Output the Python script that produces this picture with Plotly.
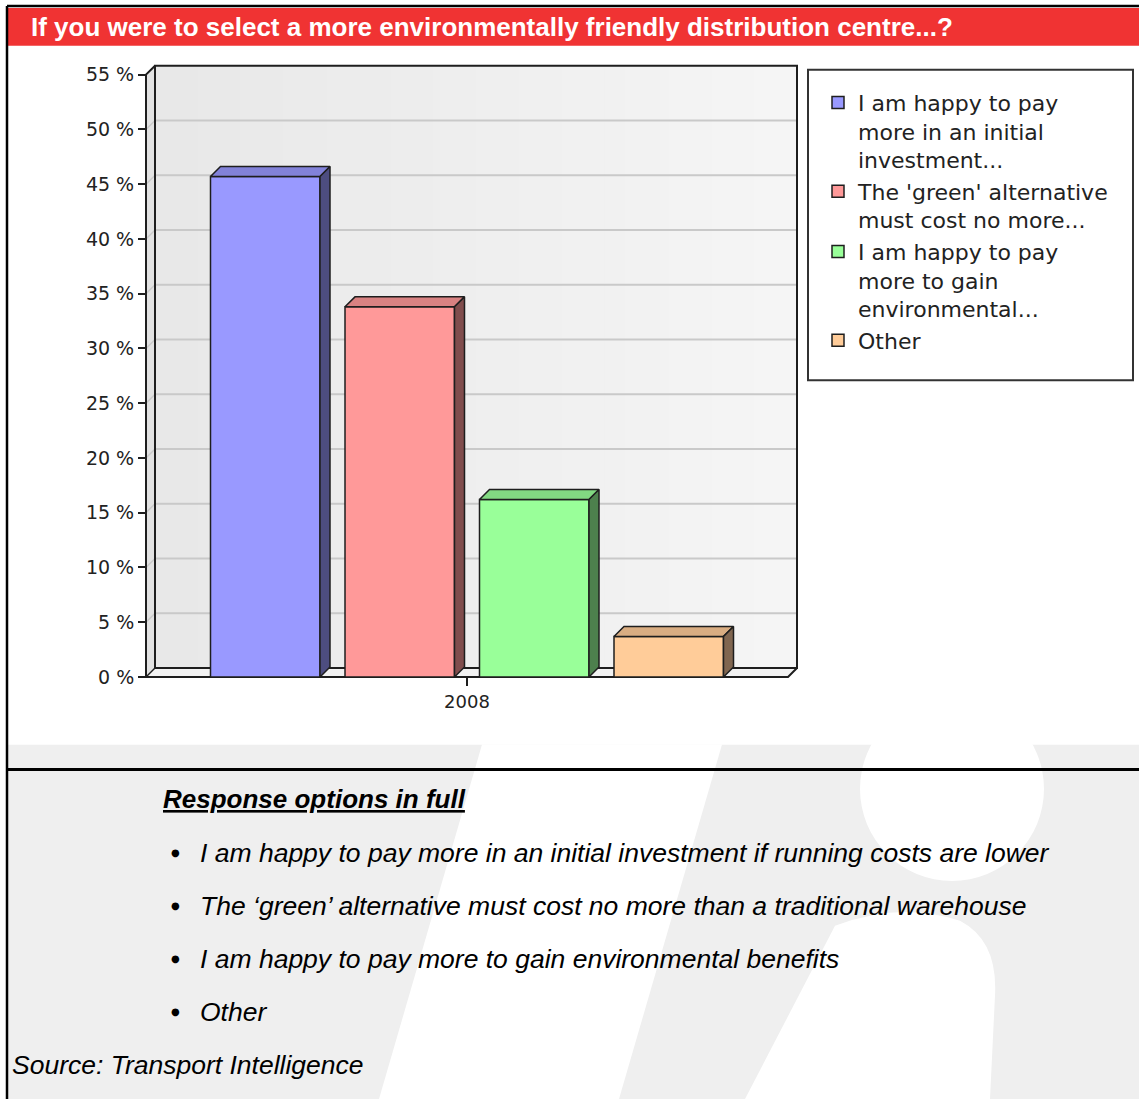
import plotly.graph_objects as go

# ---------------- data ----------------
years = ["2008"]
series_labels = [
    "I am happy to pay<br>more in an initial<br>investment...",
    "The 'green' alternative<br>must cost no more...",
    "I am happy to pay<br>more to gain<br>environmental...",
    "Other",
]
series_values = [45.7, 33.8, 16.2, 3.7]
y_tick_values = [0, 5, 10, 15, 20, 25, 30, 35, 40, 45, 50, 55]
y_tick_labels = [f"{v} %" for v in y_tick_values]

title_text = "If you were to select a more environmentally friendly distribution centre...?"
options_heading = "Response options in full"
options_full = [
    "I am happy to pay more in an initial investment if running costs are lower",
    "The \u2018green\u2019 alternative must cost no more than a traditional warehouse",
    "I am happy to pay more to gain environmental benefits",
    "Other",
]
source_text = "Source: Transport Intelligence"

# ---------------- styling ----------------
front_colors = ["#9999FF", "#FF9999", "#99FF99", "#FFCC99"]
top_colors = ["#8282D9", "#D98282", "#82D982", "#D9AD82"]
side_colors = ["#4D4D80", "#804D4D", "#4D804D", "#806650"]
OUTLINE = "#1e1e1e"
GRID = "#C9C9C9"

W, H = 1139, 1104

# pixel geometry of the plotting box
PX_X0 = 146          # front-left corner (x = -0.5)
PX_PER_UNIT = 642    # width of the front floor for one category
PX_Y0 = 680          # 0 % line
PX_PER_PCT = 11.0
WALL_DEPTH = 9       # 3-D depth of walls in px
BAR_DEPTH = 10       # 3-D depth of bars in px

AREA_L, AREA_R, AREA_T, AREA_B = 140, 806, 58, 686


def ux(px):
    return px / PX_PER_UNIT


def uy(px):
    return px / PX_PER_PCT


x_range = [-0.5 + ux(AREA_L - PX_X0), -0.5 + ux(AREA_R - PX_X0)]
y_range = [uy(PX_Y0 - AREA_B), uy(PX_Y0 - AREA_T)]

xL, xR = -0.5, 0.5
wdx, wdy = ux(WALL_DEPTH), uy(WALL_DEPTH)
bdx, bdy = ux(BAR_DEPTH), uy(BAR_DEPTH)
y_top = y_tick_values[-1]

fig = go.Figure()

# ---------------- bars (front faces + 3-D top/side) ----------------
slot = ux(134.5)
bar_w = ux(109.5)
n = len(series_values)
for i, (lab, val) in enumerate(zip(series_labels, series_values)):
    cx = (i - (n - 1) / 2) * slot
    x0, x1 = cx - bar_w / 2, cx + bar_w / 2
    fig.add_trace(go.Bar(
        x=[cx], y=[val], width=[bar_w], name=lab,
        marker=dict(color=front_colors[i], line=dict(color=OUTLINE, width=1.5)),
        hovertemplate="%{y:.1f} %<extra></extra>",
    ))
    fig.add_trace(go.Scatter(
        x=[x0, x1, x1 + bdx, x0 + bdx, x0],
        y=[val, val, val + bdy, val + bdy, val],
        mode="lines", fill="toself", fillcolor=top_colors[i],
        line=dict(color=OUTLINE, width=1.5), showlegend=False, hoverinfo="skip",
    ))
    fig.add_trace(go.Scatter(
        x=[x1, x1 + bdx, x1 + bdx, x1, x1],
        y=[0, bdy, val + bdy, val, 0],
        mode="lines", fill="toself", fillcolor=side_colors[i],
        line=dict(color=OUTLINE, width=1.5), showlegend=False, hoverinfo="skip",
    ))

shapes = []


def paper_rect(x0, y0, x1, y1, fill, line_w=0, line_c=None, layer="below"):
    return dict(type="rect", xref="paper", yref="paper",
                x0=x0 / W, x1=x1 / W, y0=1 - y1 / H, y1=1 - y0 / H,
                fillcolor=fill, line=dict(width=line_w, color=line_c or fill), layer=layer)


def paper_path(pts, fill, layer="below"):
    d = "M " + " L ".join(f"{x / W},{1 - y / H}" for x, y in pts) + " Z"
    return dict(type="path", xref="paper", yref="paper", path=d,
                fillcolor=fill, line=dict(width=0), layer=layer)


def paper_line(x0, y0, x1, y1, color="#000000", width=2):
    return dict(type="line", xref="paper", yref="paper",
                x0=x0 / W, x1=x1 / W, y0=1 - y0 / H, y1=1 - y1 / H,
                line=dict(color=color, width=width), layer="above")


# ---------------- page background / watermark ----------------
shapes.append(paper_rect(8, 748, W, H, "#EFEFEF"))
shapes.append(paper_path([(482, 748), (722, 748), (619, H), (379, H)], "#FFFFFF"))
shapes.append(dict(type="circle", xref="paper", yref="paper",
                   x0=860 / W, x1=1044 / W, y0=1 - 885 / H, y1=1 - 700 / H,
                   fillcolor="#FFFFFF", line=dict(width=0), layer="below"))
shapes.append(dict(type="path", xref="paper", yref="paper",
                   path=("M {a},{b} L {c},{d} Q {e},{f} {g},{h} Q {i},{j} {k},{l} L {m},{n} Z").format(
                       a=745 / W, b=1 - H / H, c=835 / W, d=1 - 930 / H,
                       e=900 / W, f=1 - 905 / H, g=960 / W, h=1 - 925 / H,
                       i=998 / W, j=1 - 945 / H, k=995 / W, l=1 - 1000 / H,
                       m=990 / W, n=1 - H / H),
                   fillcolor="#FFFFFF", line=dict(width=0), layer="below"))
shapes.append(paper_rect(8, 46, W, 748, "#FFFFFF"))

# title bar
shapes.append(paper_rect(8, 8, W, 46, "#F03333"))

# frame lines
shapes.append(paper_line(7, 6, W, 6, width=2.5))
shapes.append(paper_line(7, 6, 7, H, width=2.5))
shapes.append(paper_line(7, 773, W, 773, width=3))

# legend frame
shapes.append(paper_rect(808, 70, 1133, 382, "rgba(0,0,0,0)", line_w=2, line_c="#333333", layer="above"))

# ---------------- 3-D plotting box (data coordinates) ----------------


def data_path(pts, fill="rgba(0,0,0,0)", color=OUTLINE, width=0, closed=True, layer="below"):
    d = "M " + " L ".join(f"{x},{y}" for x, y in pts) + (" Z" if closed else "")
    return dict(type="path", xref="x", yref="y", path=d, fillcolor=fill,
                line=dict(color=color, width=width), layer=layer)


# back wall with a soft left-to-right gradient
n_strips = 30
bx0, bx1 = xL + wdx, xR + wdx
for k in range(n_strips):
    t = k / (n_strips - 1)
    g = round(232 + (245 - 232) * t)
    sx0 = bx0 + (bx1 - bx0) * k / n_strips
    sx1 = bx0 + (bx1 - bx0) * (k + 1) / n_strips + 0.002
    shapes.append(dict(type="rect", xref="x", yref="y", x0=sx0, x1=min(sx1, bx1),
                       y0=wdy, y1=y_top + wdy, fillcolor=f"rgb({g},{g},{g})",
                       line=dict(width=0), layer="below"))

# left wall and floor
shapes.append(data_path([(xL, 0), (xL, y_top), (xL + wdx, y_top + wdy), (xL + wdx, wdy)], fill="#E2E2E2"))
shapes.append(data_path([(xL, 0), (xR, 0), (xR + wdx, wdy), (xL + wdx, wdy)], fill="#F2F2F2"))

# gridlines on the back wall, continued across the left wall
for v in y_tick_values[1:-1]:
    shapes.append(data_path([(xL + wdx, v + wdy), (xR + wdx, v + wdy)], color=GRID, width=2, closed=False))
    shapes.append(data_path([(xL, v), (xL + wdx, v + wdy)], color=GRID, width=1.5, closed=False))

# box outline
shapes.append(data_path([(xL + wdx, wdy), (xL + wdx, y_top + wdy), (xR + wdx, y_top + wdy), (xR + wdx, wdy)],
                        color=OUTLINE, width=2, closed=True))
shapes.append(data_path([(xR + wdx, wdy), (xR, 0), (xL, 0), (xL, y_top), (xL + wdx, y_top + wdy)],
                        color=OUTLINE, width=2, closed=False))
shapes.append(data_path([(xL, 0), (xL + wdx, wdy)], color=OUTLINE, width=1.5, closed=False))

# ---------------- text ----------------
annotations = [
    dict(xref="paper", yref="paper", x=29 / W, y=1 - 27 / H, xanchor="left", yanchor="middle",
         text=f"<b>{title_text}</b>", showarrow=False,
         font=dict(family="Liberation Sans", size=26, color="#FFFFFF")),
    dict(xref="paper", yref="paper", x=161 / W, y=1 - 803 / H, xanchor="left", yanchor="middle",
         text=f"<b><i><u>{options_heading}</u></i></b>", showarrow=False,
         font=dict(family="Liberation Sans", size=26, color="#000000")),
    dict(xref="paper", yref="paper", x=10 / W, y=1 - 1070 / H, xanchor="left", yanchor="middle",
         text=f"<i>{source_text}</i>", showarrow=False,
         font=dict(family="Liberation Sans", size=26.5, color="#000000")),
]
for j, opt in enumerate(options_full):
    yc = 857 + j * 53.3
    annotations.append(dict(xref="paper", yref="paper", x=175 / W, y=1 - (yc - 1) / H,
                            xanchor="center", yanchor="middle", text="\u25CF", showarrow=False,
                            font=dict(family="DejaVu Sans", size=10, color="#000000")))
    annotations.append(dict(xref="paper", yref="paper", x=198 / W, y=1 - yc / H,
                            xanchor="left", yanchor="middle", text=f"<i>{opt}</i>", showarrow=False,
                            font=dict(family="Liberation Sans", size=26.5, color="#000000")))

fig.update_layout(
    width=W, height=H,
    margin=dict(l=0, r=0, t=0, b=0),
    paper_bgcolor="#FFFFFF", plot_bgcolor="rgba(0,0,0,0)",
    barmode="overlay",
    showlegend=True,
    legend=dict(x=818 / W, y=1 - 82 / H, xanchor="left", yanchor="top",
                bgcolor="rgba(0,0,0,0)", borderwidth=0, valign="top",
                font=dict(family="DejaVu Sans", size=22, color="#222222"),
                traceorder="normal"),
    xaxis=dict(domain=[AREA_L / W, AREA_R / W], range=x_range, anchor="free",
               position=1 - PX_Y0 / H, tickvals=[0], ticktext=years,
               ticks="outside", ticklen=8, tickwidth=2, tickcolor=OUTLINE,
               showgrid=False, zeroline=False, showline=False, fixedrange=True,
               tickfont=dict(family="DejaVu Sans", size=18, color="#222222")),
    yaxis=dict(domain=[1 - AREA_B / H, 1 - AREA_T / H], range=y_range, anchor="free",
               position=PX_X0 / W, tickvals=y_tick_values, ticktext=y_tick_labels,
               ticks="outside", ticklen=8, tickwidth=2, tickcolor=OUTLINE,
               showgrid=False, zeroline=False, showline=False, fixedrange=True,
               tickfont=dict(family="DejaVu Sans", size=19, color="#222222")),
    shapes=shapes,
    annotations=annotations,
)

fig.write_html("out.html")
